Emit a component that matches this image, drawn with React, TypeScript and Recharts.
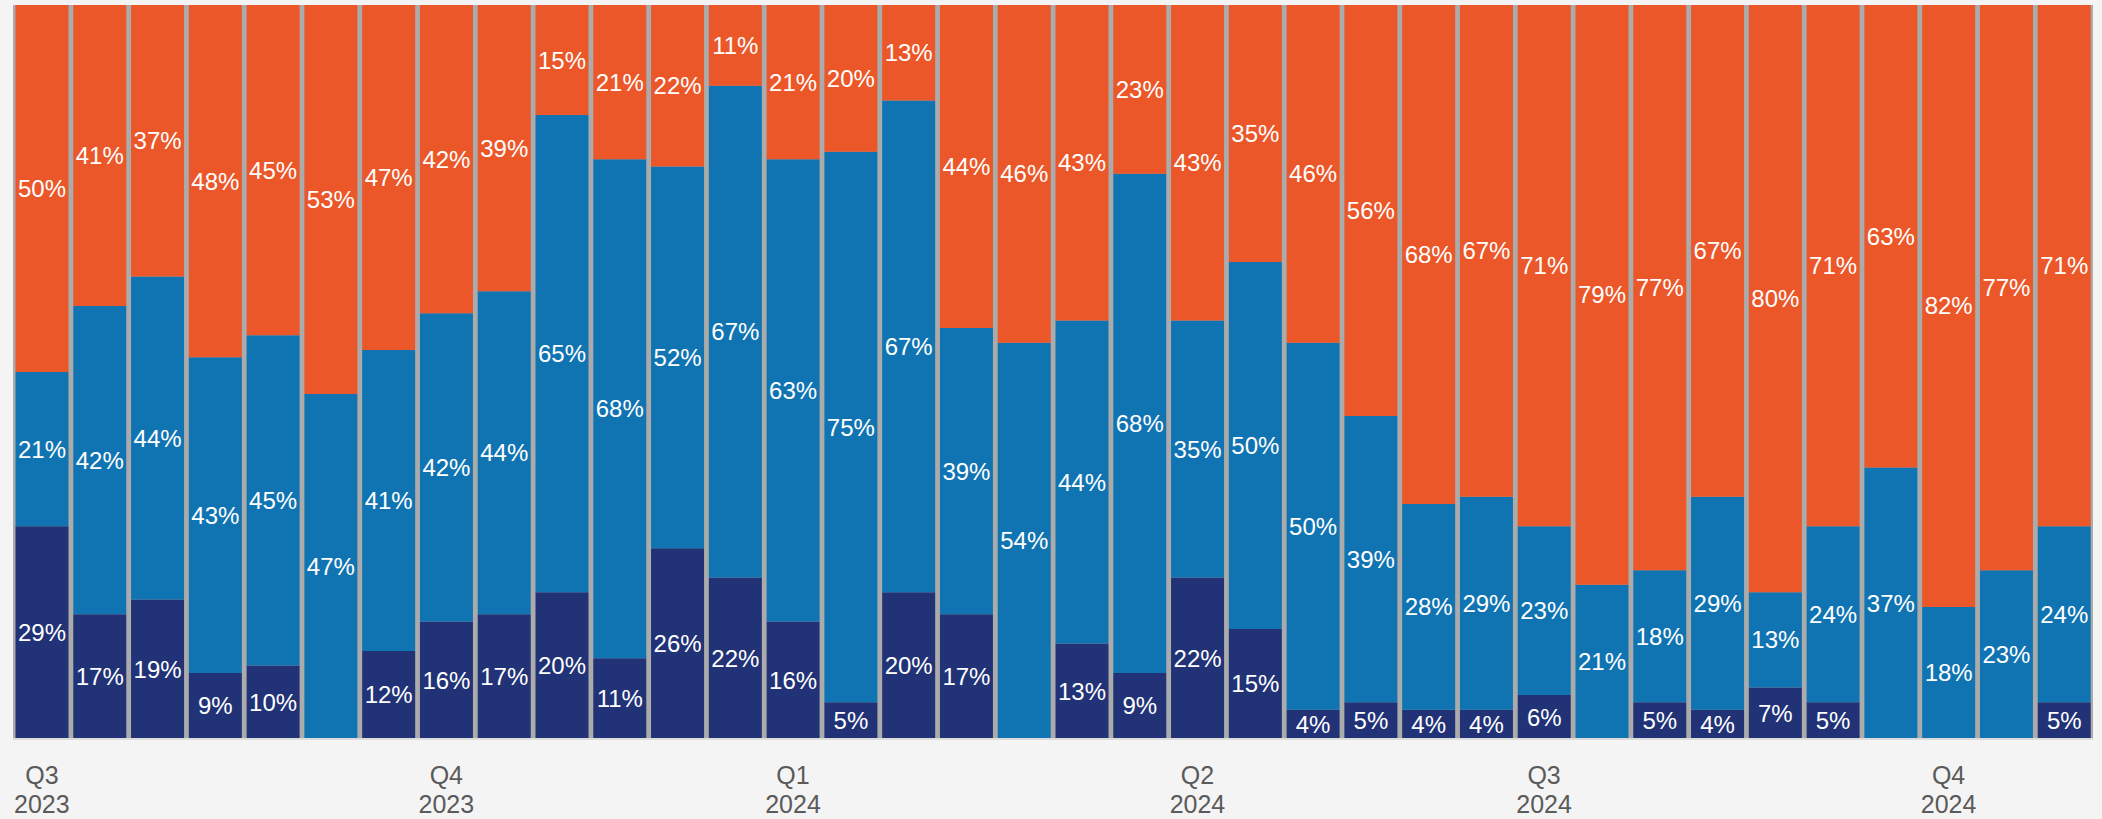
import { BarChart, Bar, XAxis, YAxis, CartesianGrid, LabelList } from 'recharts'

// one bar per week, 36 weeks from Q3 2023 to Q4 2024
const weeks = [
  'w01', 'w02', 'w03', 'w04', 'w05', 'w06', 'w07', 'w08', 'w09', 'w10', 'w11', 'w12',
  'w13', 'w14', 'w15', 'w16', 'w17', 'w18', 'w19', 'w20', 'w21', 'w22', 'w23', 'w24',
  'w25', 'w26', 'w27', 'w28', 'w29', 'w30', 'w31', 'w32', 'w33', 'w34', 'w35', 'w36',
]

// shares in %, bottom to top
const navy = [29, 17, 19, 9, 10, 0, 12, 16, 17, 20, 11, 26, 22, 16, 5, 20, 17, 0, 13, 9, 22, 15, 4, 5, 4, 4, 6, 0, 5, 4, 7, 5, 0, 0, 0, 5]
const blue = [21, 42, 44, 43, 45, 47, 41, 42, 44, 65, 68, 52, 67, 63, 75, 67, 39, 54, 44, 68, 35, 50, 50, 39, 28, 29, 23, 21, 18, 29, 13, 24, 37, 18, 23, 24]
const orange = [50, 41, 37, 48, 45, 53, 47, 42, 39, 15, 21, 22, 11, 21, 20, 13, 44, 46, 43, 23, 43, 35, 46, 56, 68, 67, 71, 79, 77, 67, 80, 71, 63, 82, 77, 71]

// quarter labels shown under the first week of each quarter
const quarterTicks: Record<string, [string, string]> = {
  w01: ['Q3', '2023'],
  w08: ['Q4', '2023'],
  w14: ['Q1', '2024'],
  w21: ['Q2', '2024'],
  w27: ['Q3', '2024'],
  w34: ['Q4', '2024'],
}

const data = weeks.map((w, i) => ({ week: w, navy: navy[i], blue: blue[i], orange: orange[i] }))

const FONT = '"Liberation Sans", Arial, Helvetica, sans-serif'
const pct = (v: any) => (v ? `${v}%` : '')

function QuarterTick({ x, y, payload }: any) {
  const lines = quarterTicks[payload.value]
  if (!lines) return null
  return (
    <text x={x} y={y} textAnchor="middle" fill="#5a5a5a" fontSize={25} fontFamily={FONT}>
      <tspan x={x} dy={45}>{lines[0]}</tspan>
      <tspan x={x} dy={29}>{lines[1]}</tspan>
    </text>
  )
}

const labelStyle = { fill: '#ffffff', fontSize: 24, fontFamily: FONT }

export default function App() {
  return (
    <div style={{ width: 2102, height: 819, background: '#f4f4f4' }}>
      <style>{'body{margin:0}'}</style>
      <BarChart
        width={2102}
        height={819}
        data={data}
        stackOffset="expand"
        barCategoryGap={2.5}
        margin={{ top: 5, right: 9, left: 13, bottom: 0 }}
      >
        <CartesianGrid horizontal={false} vertical={false} fill="#ababab" fillOpacity={1} />
        <XAxis
          dataKey="week"
          ticks={Object.keys(quarterTicks)}
          interval={0}
          tick={<QuarterTick />}
          tickLine={false}
          tickSize={0}
          tickMargin={0}
          height={80}
          axisLine={{ stroke: '#dcdcdc', strokeWidth: 2 }}
        />
        <YAxis hide domain={[0, 1]} />
        <Bar dataKey="navy" stackId="s" fill="#213277" isAnimationActive={false}>
          <LabelList dataKey="navy" position="center" formatter={pct} style={labelStyle} />
        </Bar>
        <Bar dataKey="blue" stackId="s" fill="#1174b2" isAnimationActive={false}>
          <LabelList dataKey="blue" position="center" formatter={pct} style={labelStyle} />
        </Bar>
        <Bar dataKey="orange" stackId="s" fill="#eb5729" isAnimationActive={false}>
          <LabelList dataKey="orange" position="center" formatter={pct} style={labelStyle} />
        </Bar>
      </BarChart>
    </div>
  )
}
